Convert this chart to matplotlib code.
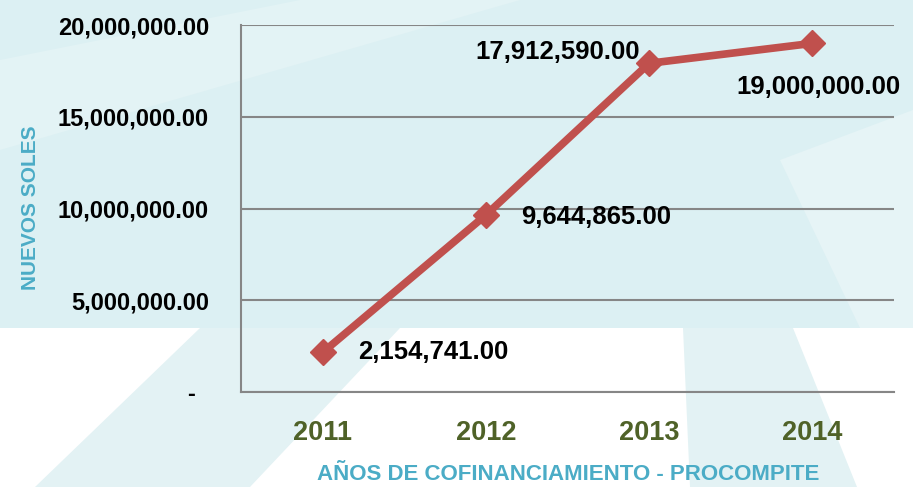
import matplotlib
matplotlib.use("Agg")
import matplotlib.pyplot as plt
from matplotlib.patches import Polygon, Rectangle
from matplotlib.ticker import FuncFormatter

years = ["2011", "2012", "2013", "2014"]
values = [2154741.00, 9644865.00, 17912590.00, 19000000.00]
y_ticks = [0, 5000000, 10000000, 15000000, 20000000]
x_title = "AÑOS DE COFINANCIAMIENTO - PROCOMPITE"
y_title = "NUEVOS SOLES"

W, H = 913, 487
plt.rcParams['font.family'] = ['Liberation Sans', 'DejaVu Sans']
fig = plt.figure(figsize=(W / 100, H / 100), dpi=100)
fig.patch.set_facecolor("white")

# background decoration in pixel coordinates
bg = fig.add_axes([0, 0, 1, 1], zorder=-5)
bg.set_xlim(0, W)
bg.set_ylim(H, 0)
bg.axis("off")
bg.add_patch(Rectangle((0, 0), W, 328, facecolor="#dcf0f3", edgecolor="none"))
for poly, c in [
    ([(35, 487), (200, 328), (400, 328), (250, 487)], "#e3f2f4"),
    ([(683, 328), (793, 328), (857, 487), (690, 487)], "#e3f2f4"),
    ([(0, 60), (300, 0), (520, 0), (0, 150)], "#e3f3f5"),
    ([(780, 160), (913, 110), (913, 328), (860, 328)], "#e6f4f6"),
]:
    bg.add_patch(Polygon(poly, closed=True, facecolor=c, edgecolor="none"))

ax = fig.add_axes([241 / W, 1 - 392 / H, (894 - 241) / W, (392 - 25) / H])
ax.patch.set_alpha(0)

x = list(range(len(years)))
ax.plot(x, values, color="#c0504d", lw=5.5, marker="D", markersize=13,
        solid_capstyle="butt", zorder=3)

ax.set_xlim(-0.5, len(years) - 0.5)
ax.set_ylim(0, 20000000)
ax.set_yticks(y_ticks)
ax.yaxis.set_major_formatter(FuncFormatter(lambda v, p: "-  " if v == 0 else f"{v:,.2f}"))
ax.set_xticks(x)
ax.set_xticklabels(years)
ax.grid(axis="y", color="#868686", lw=1.5)
ax.set_axisbelow(True)
for s in ["top", "right"]:
    ax.spines[s].set_visible(False)
for s in ["left", "bottom"]:
    ax.spines[s].set_color("#868686")
    ax.spines[s].set_linewidth(1.5)
ax.tick_params(axis="both", length=0)
ax.tick_params(axis="y", pad=23, labelsize=17)
ax.tick_params(axis="x", pad=20, labelsize=19.5, labelcolor="#4f6228")
for lab in ax.get_yticklabels() + ax.get_xticklabels():
    lab.set_fontweight("bold")

# data labels
offsets = [(35, 0, "left", "center"), (35, -2, "left", "center"),
           (-9, 11, "right", "center"), (6, -44, "center", "center")]
for xi, v, (dx, dy, ha, va) in zip(x, values, offsets):
    ax.annotate(f"{v:,.2f}", (xi, v), xytext=(dx * 0.72, dy * 0.72), textcoords="offset points",
                ha=ha, va=va, fontsize=18.5, fontweight="bold", color="black", zorder=4)

fig.text(30 / W, 1 - 208 / H, y_title, rotation=90, ha="center", va="center",
         fontsize=15, fontweight="bold", color="#4bacc6")
fig.text(568 / W, 1 - 475 / H, x_title, ha="center", va="center",
         fontsize=16, fontweight="bold", color="#4bacc6")

fig.savefig("out.png", dpi=100, facecolor=fig.get_facecolor())
